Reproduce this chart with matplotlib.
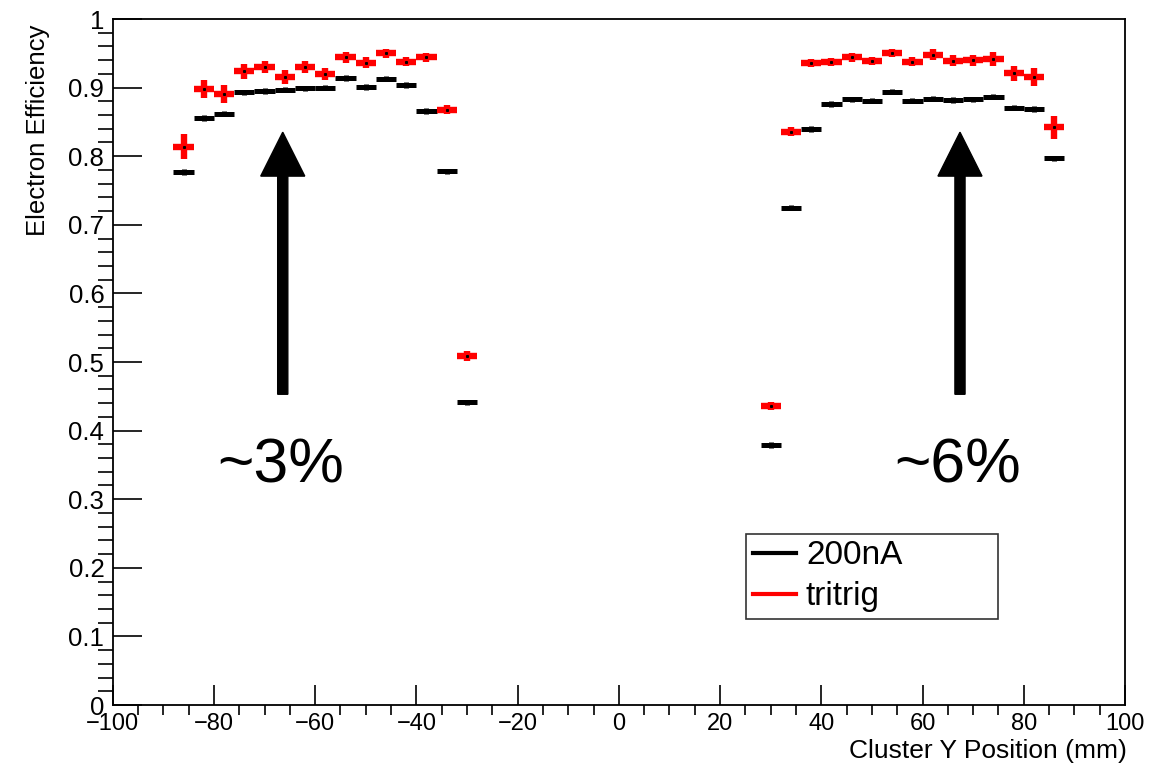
import matplotlib
matplotlib.use("Agg")
import matplotlib.pyplot as plt
from matplotlib.ticker import MultipleLocator, FuncFormatter

plt.rcParams['font.family'] = ['Liberation Sans', 'DejaVu Sans']

# bin centres (mm), 4 mm bins
y_left = [-86, -82, -78, -74, -70, -66, -62, -58, -54, -50, -46, -42, -38, -34, -30]
y_right = [30, 34, 38, 42, 46, 50, 54, 58, 62, 66, 70, 74, 78, 82, 86]

eff_200nA_left = [0.777, 0.856, 0.862, 0.893, 0.895, 0.897, 0.899, 0.900,
                  0.914, 0.901, 0.913, 0.904, 0.866, 0.778, 0.441]
eff_200nA_right = [0.379, 0.725, 0.840, 0.876, 0.883, 0.881, 0.894, 0.881,
                   0.884, 0.882, 0.883, 0.887, 0.871, 0.869, 0.797]

eff_tritrig_left = [0.814, 0.898, 0.891, 0.924, 0.930, 0.916, 0.930, 0.920,
                    0.944, 0.936, 0.950, 0.938, 0.944, 0.868, 0.509]
eff_tritrig_right = [0.436, 0.836, 0.936, 0.937, 0.944, 0.939, 0.951, 0.938,
                     0.948, 0.939, 0.940, 0.942, 0.921, 0.915, 0.842]
err_tritrig_left = [0.018, 0.013, 0.013, 0.011, 0.009, 0.010, 0.009, 0.009,
                    0.008, 0.008, 0.007, 0.007, 0.007, 0.006, 0.007]
err_tritrig_right = [0.006, 0.007, 0.006, 0.006, 0.006, 0.006, 0.006, 0.007,
                     0.008, 0.008, 0.008, 0.010, 0.011, 0.013, 0.017]

fig = plt.figure(figsize=(11.51, 7.70), dpi=100)
ax = fig.add_axes([0.0979, 0.0844, 0.8795, 0.8909])

xs = y_left + y_right
ax.errorbar(xs, eff_200nA_left + eff_200nA_right, xerr=2, yerr=0.004,
            fmt='none', ecolor='black', elinewidth=3.6, label='200nA')
ax.errorbar(xs, eff_tritrig_left + eff_tritrig_right, xerr=2,
            yerr=err_tritrig_left + err_tritrig_right,
            fmt='none', ecolor='#ff0000', elinewidth=4.6, label='tritrig')
ax.plot(xs, eff_tritrig_left + eff_tritrig_right, ls='none', marker='s',
        ms=1.2, color='black')

# arrows and annotations
for xa in (-66.4, 67.4):
    ax.arrow(xa, 0.453, 0, 0.835 - 0.453, width=2.0, head_width=8.7,
             head_length=0.064, length_includes_head=True, color='black')
ax.text(-66.8, 0.325, '~3%', fontsize=45, ha='center', va='baseline')
ax.text(67.0, 0.325, '~6%', fontsize=45, ha='center', va='baseline')

ax.set_xlim(-100, 100)
ax.set_ylim(0, 1)
ax.xaxis.set_major_locator(MultipleLocator(20))
ax.xaxis.set_minor_locator(MultipleLocator(5))
ax.yaxis.set_major_locator(MultipleLocator(0.1))
ax.yaxis.set_minor_locator(MultipleLocator(0.02))
ax.yaxis.set_major_formatter(FuncFormatter(lambda v, p: '%g' % round(v, 2)))
ax.tick_params(axis='both', direction='in', top=False, right=False, width=1.2)
ax.tick_params(axis='y', which='major', length=21, labelsize=18.5, pad=6)
ax.tick_params(axis='y', which='minor', length=10.5, width=1.2)
ax.tick_params(axis='x', which='major', length=14.5, labelsize=17, pad=6)
ax.tick_params(axis='x', which='minor', length=7.5, width=1.2)
for s in ax.spines.values():
    s.set_linewidth(1.3)

fig.text(1127 / 1151, 12 / 770, 'Cluster Y Position (mm)', fontsize=19,
         ha='right', va='baseline')
fig.text(38 / 1151, 745 / 770, 'Electron Efficiency', fontsize=18.5,
         rotation=90, ha='center', va='top')

h_black = plt.Line2D([], [], color='black', lw=3)
h_red = plt.Line2D([], [], color='#ff0000', lw=3)
leg = ax.legend([h_black, h_red], ['200nA', 'tritrig'], fontsize=24,
                loc='lower left', bbox_to_anchor=(746 / 1151, (770 - 619) / 770,
                                                  (998 - 746) / 1151, (619 - 534) / 770),
                bbox_transform=fig.transFigure, mode='expand',
                handlelength=1.3, handletextpad=0.3, borderpad=0.2,
                labelspacing=0.3, borderaxespad=0, fancybox=False)
leg.get_frame().set_edgecolor('black')
leg.get_frame().set_linewidth(1.2)

fig.savefig('out.png', dpi=100)
